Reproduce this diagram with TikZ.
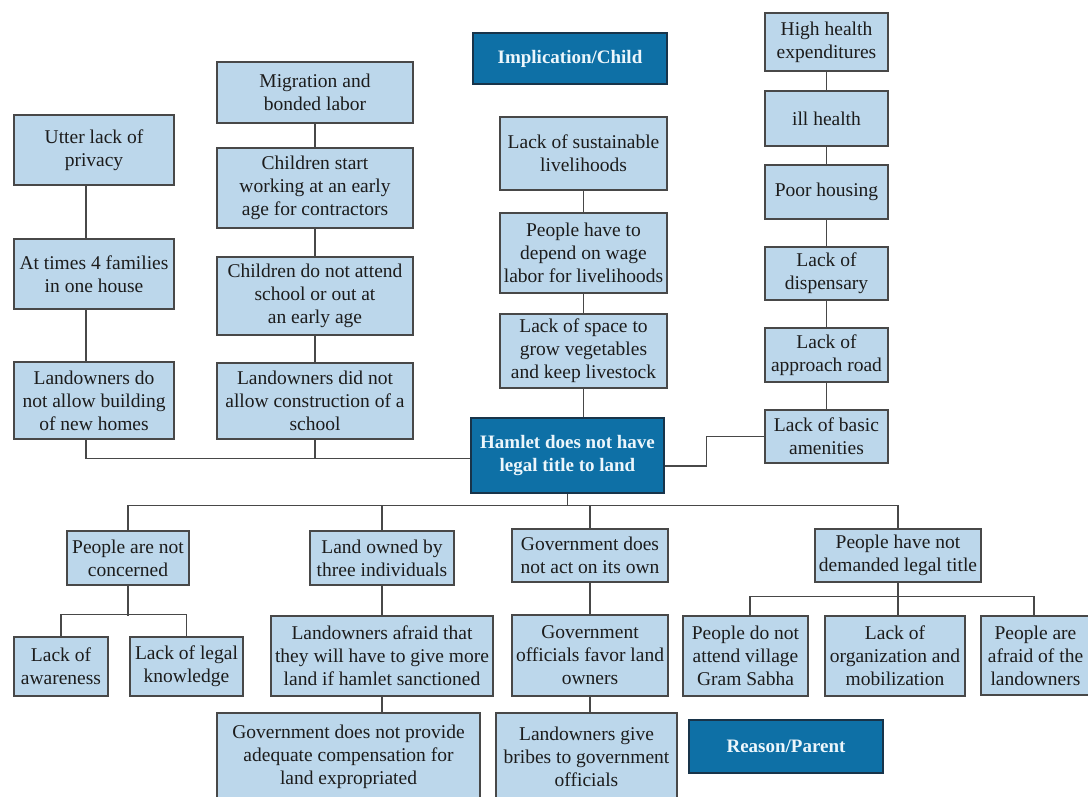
\documentclass[tikz,border=0pt]{standalone}
\usepackage{fontspec}
\setmainfont{Liberation Serif}
\definecolor{boxfill}{RGB}{188,215,235}
\definecolor{boxline}{RGB}{72,72,72}
\definecolor{keyfill}{RGB}{14,112,166}
\definecolor{keyline}{RGB}{24,52,74}
\definecolor{inktext}{RGB}{28,28,28}
\definecolor{keytext}{RGB}{236,246,251}
\begin{document}
\begin{tikzpicture}[x=1pt,y=-1pt,
  base/.style={rectangle, inner sep=0pt, align=center,
    font=\fontsize{19.5}{23}\selectfont},
  cause/.style={base, draw=boxline, fill=boxfill, line width=1.3pt, text=inktext},
  keybox/.style={base, draw=keyline, fill=keyfill, line width=1.6pt, text=keytext,
    font=\fontsize{19}{23.5}\selectfont\bfseries},
  link/.style={draw=boxline, line width=1.3pt}]
\useasboundingbox (0,0) rectangle (1088,796);
\fill[white] (0,0) rectangle (1088,796);
\clip (0,0) rectangle (1088,796);

% legend boxes
\node[keybox, minimum width=194pt, minimum height=51pt] (imp) at (570,58.5) {Implication/Child};
\node[keybox, minimum width=194pt, minimum height=53pt] (rp) at (786,746.5) {Reason/Parent};

% central problem
\node[keybox, minimum width=193pt, minimum height=75pt] (ham) at (567.5,455.5) {Hamlet does not have\\legal title to land};

% implications: privacy column
\node[cause, minimum width=160pt, minimum height=70pt] (u1) at (94,150) {Utter lack of\\privacy};
\node[cause, minimum width=160pt, minimum height=70pt] (u2) at (94,274) {At times 4 families\\in one house};
\node[cause, minimum width=160pt, minimum height=77pt] (u3) at (94,400.5) {Landowners do\\not allow building\\of new homes};

% implications: children column
\node[cause, minimum width=196pt, minimum height=61pt] (m1) at (315,92.5) {Migration and\\bonded labor};
\node[cause, minimum width=196pt, minimum height=80pt] (m2) at (315,188) {Children start\\working at an early\\age for contractors};
\node[cause, minimum width=196pt, minimum height=78pt] (m3) at (315,296) {Children do not attend\\school or out at\\an early age};
\node[cause, minimum width=196pt, minimum height=76pt] (m4) at (315,401) {Landowners did not\\allow construction of a\\school};

% implications: livelihood column
\node[cause, minimum width=167pt, minimum height=73pt] (c1) at (583.5,153.5) {Lack of sustainable\\livelihoods};
\node[cause, minimum width=167pt, minimum height=80pt] (c2) at (583.5,253) {People have to\\depend on wage\\labor for livelihoods};
\node[cause, minimum width=167pt, minimum height=74pt] (c3) at (583.5,351) {Lack of space to\\grow vegetables\\and keep livestock};

% implications: health column
\node[cause, minimum width=123pt, minimum height=58pt] (r1) at (826.5,42) {High health\\expenditures};
\node[cause, minimum width=123pt, minimum height=55pt] (r2) at (826.5,118.5) {ill health};
\node[cause, minimum width=123pt, minimum height=54pt] (r3) at (826.5,192) {Poor housing};
\node[cause, minimum width=123pt, minimum height=53pt] (r4) at (826.5,273.5) {Lack of\\dispensary};
\node[cause, minimum width=123pt, minimum height=54pt] (r5) at (826.5,355) {Lack of\\approach road};
\node[cause, minimum width=123pt, minimum height=53pt] (r6) at (826.5,436.5) {Lack of basic\\amenities};

% reasons
\node[cause, minimum width=122pt, minimum height=54pt] (b1) at (128,558) {People are not\\concerned};
\node[cause, minimum width=94pt, minimum height=59pt] (b1a) at (61,666.5) {Lack of\\awareness};
\node[cause, minimum width=113pt, minimum height=59pt] (b1b) at (186.5,666.5) {Lack of legal\\knowledge};

\node[cause, minimum width=144pt, minimum height=54pt] (b2) at (382,558) {Land owned by\\three individuals};
\node[cause, minimum width=222pt, minimum height=80pt] (b2a) at (382,656) {Landowners afraid that\\they will have to give more\\land if hamlet sanctioned};
\node[cause, minimum width=263pt, minimum height=87pt] (b2b) at (348.5,756.5) {Government does not provide\\adequate compensation for\\land expropriated};

\node[cause, minimum width=156pt, minimum height=53pt] (b3) at (590,555.5) {Government does\\not act on its own};
\node[cause, minimum width=156pt, minimum height=81pt] (b3a) at (590,655.5) {Government\\officials favor land\\owners};
\node[cause, minimum width=181pt, minimum height=87pt] (b3b) at (586.5,756.5) {Landowners give\\bribes to government\\officials};

\node[cause, minimum width=166pt, minimum height=53pt] (b4) at (898,555.5) {People have not\\demanded legal title};
\node[cause, minimum width=125pt, minimum height=80pt] (b4a) at (745.5,656) {People do not\\attend village\\Gram Sabha};
\node[cause, minimum width=140pt, minimum height=80pt] (b4b) at (895,656) {Lack of\\organization and\\mobilization};
\node[cause, minimum width=109pt, minimum height=79pt] (b4c) at (1035.5,655.5) {People are\\afraid of the\\landowners};

% connectors above the central problem
\draw[link] ([xshift=-8pt]u1.south) -- ([xshift=-8pt]u2.north);
\draw[link] ([xshift=-8pt]u2.south) -- ([xshift=-8pt]u3.north);
\draw[link] ([xshift=-8pt]u3.south) |- ([yshift=-3pt]ham.west);

\draw[link] (m1.south) -- (m2.north);
\draw[link] (m2.south) -- (m3.north);
\draw[link] (m3.south) -- (m4.north);
\draw[link] (m4.south) -- ++(0,19);

\draw[link] (c1.south) -- (c1.south |- c2.north);
\draw[link] (c2.south) -- (c2.south |- c3.north);
\draw[link] (c3.south) -- (c3.south |- ham.north);

\draw[link] (r1.south) -- (r2.north);
\draw[link] (r2.south) -- (r3.north);
\draw[link] (r3.south) -- (r4.north);
\draw[link] (r4.south) -- (r5.north);
\draw[link] (r5.south) -- (r6.north);
\draw[link] (r6.west) -- ++(-58,0) |- ([yshift=-10.5pt]ham.east);

% connectors below the central problem
\draw[link] (ham.south) -- ++(0,12.5);
\draw[link] (b1.north) -- ++(0,-25) -| (b4.north);
\draw[link] (b2.north) -- ++(0,-25);
\draw[link] (b3.north) -- ++(0,-23);

\draw[link] (b1.south) -- ++(0,30);
\draw[link] (b1a.north) -- ++(0,-22) -| (b1b.north);

\draw[link] (b2.south) -- (b2a.north);
\draw[link] (b2a.south) -- (b2a.south |- b2b.north);

\draw[link] (b3.south) -- (b3a.north);
\draw[link] (b3a.south) -- (b3a.south |- b3b.north);

\draw[link] (b4.south) -- (b4.south |- b4b.north);
\draw[link] ([xshift=4.5pt]b4a.north) -- ++(0,-19) -| ([xshift=-1.5pt]b4c.north);
\end{tikzpicture}
\end{document}
